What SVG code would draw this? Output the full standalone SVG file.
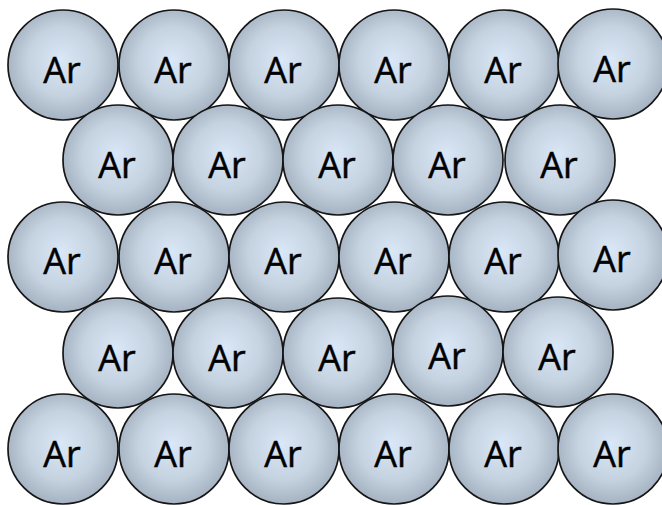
<svg xmlns="http://www.w3.org/2000/svg" width="662" height="505" viewBox="0 0 662 505">
<defs>
<radialGradient id="g" cx="50%" cy="48%" r="52%" fx="48%" fy="45%">
<stop offset="0" stop-color="#dae7f7"/>
<stop offset="0.6" stop-color="#c5d2e0"/>
<stop offset="1" stop-color="#a5b2c1"/>
</radialGradient>
</defs>
<style>
circle{fill:url(#g);stroke:#161616;stroke-width:1.7}
text{font-family:"Open Sans","Liberation Sans",sans-serif;font-size:36px;fill:#000;stroke:#000;stroke-width:0.5;text-anchor:middle}
</style>
<rect width="662" height="505" fill="#fff"/>
<g id="r1">
<g id="n1_1"><circle cx="63" cy="65" r="55"/><text x="62" y="83">Ar</text></g>
<g id="n1_2"><circle cx="174" cy="65" r="55"/><text x="173" y="83">Ar</text></g>
<g id="n1_3"><circle cx="284" cy="65" r="55"/><text x="283" y="83">Ar</text></g>
<g id="n1_4"><circle cx="394" cy="65" r="55"/><text x="393" y="83">Ar</text></g>
<g id="n1_5"><circle cx="504" cy="65" r="55"/><text x="503" y="83">Ar</text></g>
<g id="n1_6"><circle cx="613" cy="64" r="55"/><text x="612" y="82">Ar</text></g>
</g>
<g id="r2">
<g id="n2_1"><circle cx="118" cy="160" r="55"/><text x="117" y="178">Ar</text></g>
<g id="n2_2"><circle cx="228" cy="160" r="55"/><text x="227" y="178">Ar</text></g>
<g id="n2_3"><circle cx="338" cy="160" r="55"/><text x="337" y="178">Ar</text></g>
<g id="n2_4"><circle cx="448" cy="160" r="55"/><text x="447" y="178">Ar</text></g>
<g id="n2_5"><circle cx="560" cy="160" r="55"/><text x="559" y="178">Ar</text></g>
</g>
<g id="r3">
<g id="n3_1"><circle cx="63" cy="257" r="55"/><text x="62" y="274">Ar</text></g>
<g id="n3_2"><circle cx="174" cy="257" r="55"/><text x="173" y="274">Ar</text></g>
<g id="n3_3"><circle cx="284" cy="257" r="55"/><text x="283" y="274">Ar</text></g>
<g id="n3_4"><circle cx="394" cy="257" r="55"/><text x="393" y="274">Ar</text></g>
<g id="n3_5"><circle cx="504" cy="257" r="55"/><text x="503" y="274">Ar</text></g>
<g id="n3_6"><circle cx="613" cy="255" r="55"/><text x="612" y="272">Ar</text></g>
</g>
<g id="r4">
<g id="n4_1"><circle cx="118" cy="353" r="55"/><text x="117" y="371">Ar</text></g>
<g id="n4_2"><circle cx="228" cy="353" r="55"/><text x="227" y="371">Ar</text></g>
<g id="n4_3"><circle cx="338" cy="353" r="55"/><text x="337" y="371">Ar</text></g>
<g id="n4_4"><circle cx="448" cy="351" r="55"/><text x="447" y="369">Ar</text></g>
<g id="n4_5"><circle cx="558" cy="352" r="55"/><text x="557" y="370">Ar</text></g>
</g>
<g id="r5">
<g id="n5_1"><circle cx="63" cy="449" r="55"/><text x="62" y="467">Ar</text></g>
<g id="n5_2"><circle cx="174" cy="449" r="55"/><text x="173" y="467">Ar</text></g>
<g id="n5_3"><circle cx="284" cy="449" r="55"/><text x="283" y="467">Ar</text></g>
<g id="n5_4"><circle cx="394" cy="449" r="55"/><text x="393" y="467">Ar</text></g>
<g id="n5_5"><circle cx="504" cy="449" r="55"/><text x="503" y="467">Ar</text></g>
<g id="n5_6"><circle cx="613" cy="449" r="55"/><text x="612" y="467">Ar</text></g>
</g>
</svg>
